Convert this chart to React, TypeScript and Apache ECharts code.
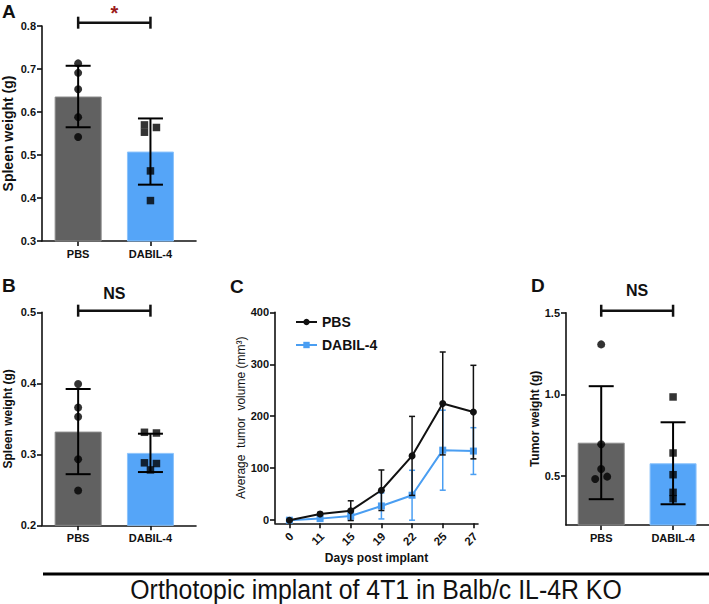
import React, { useEffect, useRef } from "react";
import * as echarts from "echarts";

// ---------- data ----------
const groups = ["PBS", "DABIL-4"];

// Panel A: spleen weight (g)
const aMeans = [0.636, 0.508];
const aSD = [0.0715, 0.077];
const aPBS = [0.713, 0.691, 0.653, 0.588, 0.542];
const aDABIL = [0.57, 0.564, 0.553, 0.463, 0.394];
const aTicks = [0.3, 0.4, 0.5, 0.6, 0.7, 0.8];

// Panel B: spleen weight (g)
const bMeans = [0.332, 0.302];
const bSD = [0.06, 0.027];
const bPBS = [0.399, 0.366, 0.353, 0.293, 0.249];
const bDABIL = [0.331, 0.33, 0.288, 0.287, 0.278];
const bTicks = [0.2, 0.3, 0.4, 0.5];

// Panel C: average tumor volume (mm3)
const days = ["0", "11", "15", "19", "22", "25", "27"];
const cPBS = [0, 12, 18.3, 57.6, 123.7, 224.6, 208];
const cPBSsd = [1, 3, 19, 39, 76, 99, 90];
const cDABIL = [0, 3, 8, 27.4, 48, 134.7, 133];
const cDABILsd = [0.5, 2, 8, 25, 48, 77, 45];
const cTicks = [0, 100, 200, 300, 400];

// Panel D: tumor weight (g)
const dMeans = [0.704, 0.578];
const dSD = [0.346, 0.251];
const dPBS = [1.306, 0.694, 0.543, 0.482, 0.496];
const dDABIL = [0.984, 0.641, 0.508, 0.4, 0.361];
const dTicks = [0.5, 1.0, 1.5];

// ---------- styles ----------
const FONT = "'Liberation Sans', Arial, sans-serif";
const INK = "#111";
const GRAY = "#616161";
const BLUE = "#55a5f8";
const LINEBLUE = "#4a9ef2";

// horizontal jitter (px) of the dots
const aJit = [[0, 0, 0, 0, 0], [-6, 6, -6, 0, 0]];
const bJit = [[0, 0, 0, 0, 0], [-6, 6, -6, 6, 0]];
const dJit = [[0, 0, 0, -6, 6], [0, 0, 0, 0, 0]];

const C_YMIN = -6;

function errRender(capHalf: number, color: string, lw: number) {
  return (params: any, api: any) => {
    const x = api.value(0);
    const lo = api.coord([x, api.value(1)]);
    const hi = api.coord([x, api.value(2)]);
    const st = { stroke: color, lineWidth: lw };
    return {
      type: "group",
      children: [
        { type: "line", shape: { x1: lo[0], y1: lo[1], x2: hi[0], y2: hi[1] }, style: st },
        { type: "line", shape: { x1: lo[0] - capHalf, y1: lo[1], x2: lo[0] + capHalf, y2: lo[1] }, style: st },
        { type: "line", shape: { x1: hi[0] - capHalf, y1: hi[1], x2: hi[0] + capHalf, y2: hi[1] }, style: st },
      ],
    };
  };
}

function bracketRender(label: string, color: string, size: number, gap: number) {
  return (params: any, api: any) => {
    const p0 = api.coord([api.value(0), api.value(2)]);
    const p1 = api.coord([api.value(1), api.value(2)]);
    const st = { stroke: INK, lineWidth: 2.5 };
    return {
      type: "group",
      children: [
        { type: "line", shape: { x1: p0[0], y1: p0[1], x2: p1[0], y2: p1[1] }, style: st },
        { type: "line", shape: { x1: p0[0], y1: p0[1] - 6, x2: p0[0], y2: p0[1] + 6 }, style: st },
        { type: "line", shape: { x1: p1[0], y1: p1[1] - 6, x2: p1[0], y2: p1[1] + 6 }, style: st },
        {
          type: "text",
          x: (p0[0] + p1[0]) / 2,
          y: p0[1] - gap,
          style: {
            text: label,
            fill: color,
            font: `bold ${size}px ${FONT}`,
            align: "center",
            verticalAlign: "bottom",
          },
        },
      ],
    };
  };
}

function barPanel(
  gi: number,
  means: number[],
  sd: number[],
  pbs: number[],
  dab: number[],
  jit: number[][],
  bracketY: number,
  label: string,
  labelColor: string,
  labelSize: number,
  labelGap: number
) {
  return [
    {
      type: "bar",
      xAxisIndex: gi,
      yAxisIndex: gi,
      barWidth: 47,
      data: means.map((m, i) => ({
        value: [i, m],
        itemStyle: { color: i === 0 ? GRAY : BLUE, borderColor: i === 0 ? "#8a8a8a" : "#8cc3fb", borderWidth: 1 },
      })),
      z: 2,
    },
    {
      type: "scatter",
      xAxisIndex: gi,
      yAxisIndex: gi,
      symbol: "circle",
      symbolSize: 8,
      itemStyle: { color: "#000" },
      data: pbs.map((v, k) => ({ value: [0, v], symbolOffset: [jit[0][k], 0] })),
      z: 3,
    },
    {
      type: "scatter",
      xAxisIndex: gi,
      yAxisIndex: gi,
      symbol: "rect",
      symbolSize: 7.5,
      itemStyle: { color: "#000" },
      data: dab.map((v, k) => ({ value: [1, v], symbolOffset: [jit[1][k], 0] })),
      z: 3,
    },
    {
      type: "custom",
      xAxisIndex: gi,
      yAxisIndex: gi,
      renderItem: errRender(12.5, "#000", 2),
      data: means.map((m, i) => [i, m - sd[i], m + sd[i]]),
      clip: false,
      z: 4,
    },
    {
      type: "custom",
      xAxisIndex: gi,
      yAxisIndex: gi,
      renderItem: bracketRender(label, labelColor, labelSize, labelGap),
      data: [[0, 1, bracketY]],
      clip: false,
      z: 5,
    },
  ];
}

const axisLineStyle = { color: INK, width: 1.6 };
const tickFont = { fontFamily: FONT, fontWeight: "bold" as const, fontSize: 11, color: INK };

function catXAxis(gi: number, min: number, max: number) {
  return {
    type: "value",
    gridIndex: gi,
    min,
    max,
    axisLine: { show: true, onZero: false, lineStyle: axisLineStyle },
    axisTick: { show: true, customValues: [0, 1], length: 5, lineStyle: axisLineStyle },
    axisLabel: {
      ...tickFont,
      customValues: [0, 1],
      margin: 7,
      formatter: (v: number) => groups[Math.round(v)] ?? "",
    },
    splitLine: { show: false },
  };
}

function valYAxis(gi: number, min: number, max: number, ticks: number[], name: string, gap: number, bold: boolean, size: number, digits: number) {
  return {
    type: "value",
    gridIndex: gi,
    min,
    max,
    name,
    nameLocation: "middle",
    nameGap: gap,
    nameTextStyle: { fontFamily: FONT, fontWeight: bold ? "bold" : "normal", fontSize: size, color: INK },
    axisLine: { show: true, onZero: false, lineStyle: axisLineStyle },
    axisTick: { show: true, customValues: ticks, length: 5, lineStyle: axisLineStyle },
    axisLabel: {
      ...tickFont,
      customValues: ticks,
      margin: 6,
      formatter: (v: number) => v.toFixed(digits),
    },
    splitLine: { show: false },
  };
}

export default function App() {
  const ref = useRef<HTMLDivElement>(null);
  useEffect(() => {
    if (!ref.current) return;
    const chart = echarts.init(ref.current, null, { renderer: "svg" });
    const gridBase = { outerBoundsMode: "none", containLabel: false };
    const baseGraphic: any[] = [
      { id: "lA", type: "text", left: 2, top: 2, style: { text: "A", font: `bold 19px ${FONT}`, fill: INK } },
      { id: "lB", type: "text", left: 2, top: 276, style: { text: "B", font: `bold 19px ${FONT}`, fill: INK } },
      { id: "lC", type: "text", left: 230, top: 277, style: { text: "C", font: `bold 19px ${FONT}`, fill: INK } },
      { id: "lD", type: "text", left: 531, top: 276, style: { text: "D", font: `bold 19px ${FONT}`, fill: INK } },
      {
        id: "rule",
        type: "line",
        shape: { x1: 43, y1: 574, x2: 709, y2: 574 },
        style: { stroke: "#000", lineWidth: 3 },
      },
      {
        id: "title",
        type: "text",
        x: 376,
        y: 590,
        scaleX: 0.92,
        style: {
          text: "Orthotopic implant of 4T1 in Balb/c IL-4R KO",
          font: `27px ${FONT}`,
          fill: "#111",
          align: "center",
          verticalAlign: "middle",
        },
      },
    ];
    const option: any = {
      animation: false,
      backgroundColor: "#fff",
      textStyle: { fontFamily: FONT },
      grid: [
        { ...gridBase, left: 42, top: 26, width: 154, height: 215 },
        { ...gridBase, left: 42, top: 312.3, width: 154, height: 213 },
        { ...gridBase, left: 275, top: 312.3, width: 203, height: 211 },
        { ...gridBase, left: 566, top: 312.7, width: 143, height: 212.3 },
      ],
      xAxis: [
        catXAxis(0, -0.5, 1.63),
        catXAxis(1, -0.5, 1.63),
        {
          type: "value",
          gridIndex: 2,
          min: -0.47,
          max: 6.15,
          name: "Days post implant",
          nameLocation: "middle",
          nameGap: 29,
          nameTextStyle: { fontFamily: FONT, fontWeight: "bold", fontSize: 12, color: INK, verticalAlign: "top" },
          axisLine: { show: true, onZero: false, lineStyle: axisLineStyle },
          axisTick: { show: true, customValues: days.map((_, i) => i), length: 5, lineStyle: axisLineStyle },
          axisLabel: { show: false },
          splitLine: { show: false },
        },
        catXAxis(3, -0.49, 1.5),
      ],
      yAxis: [
        valYAxis(0, 0.3, 0.8, aTicks, "Spleen weight (g)", 27, true, 14, 1),
        valYAxis(1, 0.2, 0.5, bTicks, "Spleen weight (g)", 28, true, 12, 1),
        valYAxis(2, C_YMIN, 400, cTicks, "Average  tumor  volume (mm³)", 28, false, 12, 0),
        valYAxis(3, 0.2, 1.5, dTicks, "Tumor weight (g)", 23, true, 12, 1),
      ],
      legend: {
        data: ["PBS", "DABIL-4"],
        orient: "vertical",
        left: 290,
        top: 310,
        itemWidth: 21,
        itemHeight: 8,
        itemGap: 9,
        textStyle: { fontFamily: FONT, fontWeight: "bold", fontSize: 14, color: INK },
      },
      series: [
        ...barPanel(0, aMeans, aSD, aPBS, aDABIL, aJit, 0.8077, "*", "#9b1b1b", 20, 0),
        ...barPanel(1, bMeans, bSD, bPBS, bDABIL, bJit, 0.5023, "NS", INK, 16, 9),
        ...barPanel(3, dMeans, dSD, dPBS, dDABIL, dJit, 1.512, "NS", INK, 16, 12),
        {
          type: "line",
          name: "DABIL-4",
          xAxisIndex: 2,
          yAxisIndex: 2,
          data: cDABIL.map((v, i) => [i, v]),
          symbol: "rect",
          symbolSize: 7,
          lineStyle: { color: LINEBLUE, width: 2 },
          itemStyle: { color: LINEBLUE },
          z: 2,
        },
        {
          type: "custom",
          xAxisIndex: 2,
          yAxisIndex: 2,
          renderItem: errRender(3, LINEBLUE, 1.5),
          data: cDABIL.map((m, i) => [i, m - cDABILsd[i], m + cDABILsd[i]]),
          clip: false,
          z: 2,
        },
        {
          type: "line",
          name: "PBS",
          xAxisIndex: 2,
          yAxisIndex: 2,
          data: cPBS.map((v, i) => [i, v]),
          symbol: "circle",
          symbolSize: 7,
          lineStyle: { color: "#111", width: 2 },
          itemStyle: { color: "#111" },
          z: 3,
        },
        {
          type: "custom",
          xAxisIndex: 2,
          yAxisIndex: 2,
          renderItem: errRender(3, "#111", 1.5),
          data: cPBS.map((m, i) => [i, m - cPBSsd[i], m + cPBSsd[i]]),
          clip: false,
          z: 3,
        },
      ],
      graphic: baseGraphic,
    };
    chart.setOption(option);

    // rotated (45°) day labels, placed through panel C's axis scale
    const dayLabels = days.map((d, i) => {
      const p = chart.convertToPixel({ xAxisIndex: 2, yAxisIndex: 2 }, [i, C_YMIN]) as number[];
      return {
        id: "day" + i,
        type: "text",
        x: p[0] + 2,
        y: p[1] + 11,
        rotation: Math.PI / 4,
        style: {
          text: d,
          fill: INK,
          font: `bold 11.5px ${FONT}`,
          align: "right",
          verticalAlign: "middle",
        },
      };
    });
    chart.setOption({ graphic: [...baseGraphic, ...dayLabels] });
    return () => chart.dispose();
  }, []);
  return (
    <div
      ref={ref}
      style={{ position: "absolute", left: 0, top: 0, width: 709, height: 604 }}
    />
  );
}
